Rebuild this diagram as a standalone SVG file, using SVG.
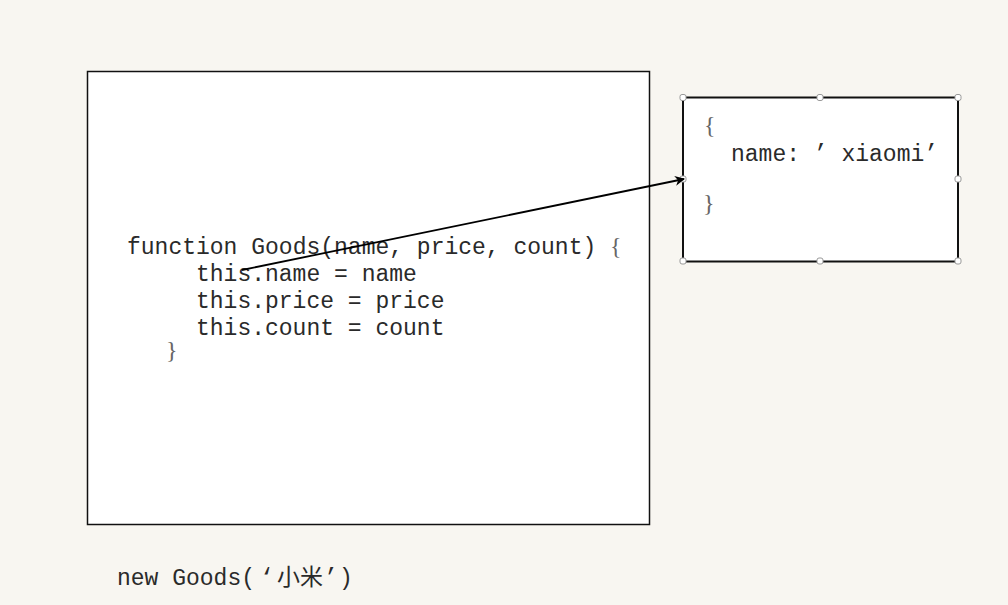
<svg xmlns="http://www.w3.org/2000/svg" width="1008" height="605" viewBox="0 0 1008 605">
<style>
.code{font-family:"Liberation Mono","Noto Sans CJK SC",monospace;font-size:23px;fill:#2a2a2a}
.brace{font-family:"Liberation Serif",serif;font-size:24px;fill:#666}
.box{fill:#fff;stroke:#111;stroke-width:1.5}
.h{fill:#fff;stroke:#999;stroke-width:1}
</style>
<defs>
<marker id="arr" viewBox="0 0 10 10" refX="9" refY="5" markerWidth="12" markerHeight="10" markerUnits="userSpaceOnUse" orient="auto">
<path d="M0,0 L10,5 L0,10 L3,5 Z" fill="#000"/>
</marker>
</defs>
<rect width="1008" height="605" fill="#f8f6f1"/>
<g id="func-box">
<rect class="box" x="87.5" y="71.5" width="562" height="453"/>
<text class="code" x="127" y="254">function Goods(name, price, count) <tspan class="brace">{</tspan></text>
<text class="code" x="196" y="281">this.name = name</text>
<text class="code" x="196" y="308">this.price = price</text>
<text class="code" x="196" y="335">this.count = count</text>
<text class="brace" x="166" y="358">}</text>
</g>
<g id="obj-box">
<rect class="box" x="683" y="97.5" width="275" height="164" style="stroke-width:2"/>
<text class="brace" x="704" y="133">{</text>
<text class="code" x="731" y="161">name: ’ xiaomi’</text>
<text class="brace" x="703" y="211">}</text>
<g id="handles">
<rect class="h" x="680" y="94.5" width="6" height="6" rx="2"/>
<rect class="h" x="817" y="94.5" width="6" height="6" rx="2"/>
<rect class="h" x="955" y="94.5" width="6" height="6" rx="2"/>
<rect class="h" x="680" y="176" width="6" height="6" rx="2"/>
<rect class="h" x="955" y="176" width="6" height="6" rx="2"/>
<rect class="h" x="680" y="258" width="6" height="6" rx="2"/>
<rect class="h" x="817" y="258" width="6" height="6" rx="2"/>
<rect class="h" x="955" y="258" width="6" height="6" rx="2"/>
</g>
</g>
<g id="connectors">
<line x1="242" y1="270" x2="684" y2="179" stroke="#000" stroke-width="1.8" marker-end="url(#arr)"/>
</g>
<g id="call">
<text class="code" x="117" y="585">new Goods(<tspan x="260">‘</tspan><tspan x="277">小米</tspan><tspan x="324">’</tspan><tspan x="339">)</tspan></text>
</g>
</svg>
